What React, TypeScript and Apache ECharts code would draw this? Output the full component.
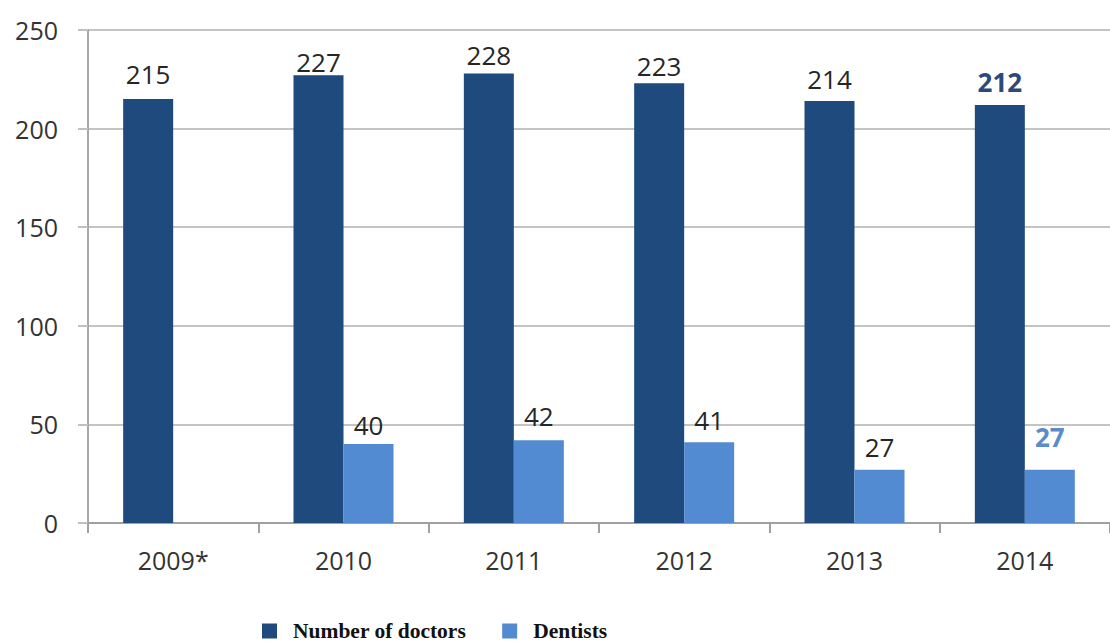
import React, { useEffect, useRef } from "react";
import * as echarts from "echarts";

const categories = ["2009*", "2010", "2011", "2012", "2013", "2014"];
const doctors = [215, 227, 228, 223, 214, 212];
const dentists: (number | null)[] = [null, 40, 42, 41, 27, 27];
const yTicks = { min: 0, max: 250, interval: 50 };
const seriesNames = ["Number of doctors", "Dentists"];

// styling: label gaps above bars (px)
const doctorLabelGap = [12, 0, 5, 4, 9, 10];
const dentistLabelGap = [0, 6, 11, 9, 10, 20];

const DARK = "#1F4A7E";
const LIGHT = "#538BD3";

export default function App() {
  const ref = useRef<HTMLDivElement>(null);
  useEffect(() => {
    if (!ref.current) return;
    const chart = echarts.init(ref.current, null, { renderer: "svg" });
    const font = "'Open Sans', 'Noto Sans', sans-serif";
    const mk = (vals: (number | null)[], gaps: number[], hiColor: string) =>
      vals.map((v, i) => {
        if (v === null) return null;
        const last = i === vals.length - 1;
        return {
          value: v,
          label: {
            distance: gaps[i],
            ...(last ? { color: hiColor, fontWeight: "bold" as const } : {}),
          },
        };
      });
    chart.setOption({
      animation: false,
      backgroundColor: "#ffffff",
      grid: { left: 88, right: -4, top: 30, bottom: 120 },
      legend: {
        left: 262,
        top: 620,
        padding: 0,
        icon: "rect",
        itemWidth: 15,
        itemHeight: 15,
        itemGap: 36,
        data: seriesNames,
        textStyle: {
          fontFamily: "'Liberation Serif', 'DejaVu Serif', serif",
          fontWeight: "bold",
          fontSize: 21.5,
          color: "#111",
          padding: [0, 0, 0, 11],
        },
      },
      xAxis: {
        type: "category",
        data: categories,
        axisLine: { lineStyle: { color: "#A0A0A0", width: 2 } },
        axisTick: { show: true, length: 10, lineStyle: { color: "#A0A0A0", width: 2 } },
        axisLabel: { fontFamily: font, fontSize: 25, color: "#333333", margin: 24 },
      },
      yAxis: {
        type: "value",
        min: yTicks.min,
        max: yTicks.max,
        interval: yTicks.interval,
        axisLine: { show: true, lineStyle: { color: "#A8A8A8", width: 2 } },
        axisTick: { show: true, length: 10, lineStyle: { color: "#C0C0C0", width: 2 } },
        splitLine: { lineStyle: { color: "#C4C4C4", width: 2 } },
        axisLabel: { fontFamily: font, fontSize: 25, color: "#333333", margin: 30 },
      },
      series: [
        {
          name: seriesNames[0],
          type: "bar",
          barWidth: 50,
          barGap: "0%",
          itemStyle: { color: DARK },
          label: {
            show: true,
            position: "top",
            fontFamily: font,
            fontSize: 26,
            color: "#262626",
          },
          data: mk(doctors, doctorLabelGap, "#2B4A7A"),
        },
        {
          name: seriesNames[1],
          type: "bar",
          barWidth: 50,
          barGap: "0%",
          itemStyle: { color: LIGHT },
          label: {
            show: true,
            position: "top",
            fontFamily: font,
            fontSize: 26,
            color: "#262626",
          },
          data: mk(dentists, dentistLabelGap, "#5B8BC9"),
        },
      ],
    });
    return () => chart.dispose();
  }, []);
  return <div ref={ref} style={{ width: 1110, height: 643, position: "absolute", left: 0, top: 0 }} />;
}
